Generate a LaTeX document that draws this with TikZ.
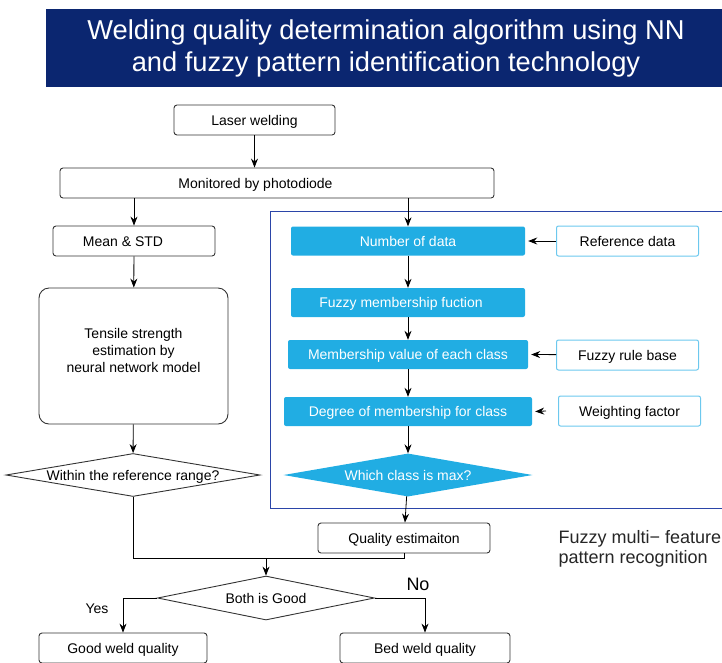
\documentclass[tikz,border=0pt]{standalone}
\usepackage{fontspec}
\setmainfont{Liberation Sans}
\usetikzlibrary{shapes.geometric,arrows.meta}
\definecolor{navy}{HTML}{0B2670}
\definecolor{fuzzcyan}{HTML}{21ADE3}
\definecolor{inedge}{HTML}{6CC8EE}
\definecolor{frameblue}{HTML}{2B45A8}
\definecolor{ink}{HTML}{333333}
\newcommand{\boxfont}{\fontsize{14}{17}\selectfont}
\tikzset{
    boxtext/.style={font=\boxfont, text height=11pt, text depth=1pt},
    procbox/.style={draw=ink, line width=0.9pt, rounded corners=3pt, minimum height=30pt, inner sep=0pt, boxtext},
    fuzzbox/.style={fill=fuzzcyan, text=white, rounded corners=2pt, minimum height=29pt, inner sep=0pt, boxtext},
    inbox/.style={draw=inedge, line width=1pt, rounded corners=2pt, minimum height=30pt, minimum width=142pt, inner sep=0pt, boxtext},
    decide/.style={diamond, draw=ink, line width=0.9pt, aspect=5.8, inner sep=0pt, boxtext},
    flow/.style={-{Stealth[length=9pt,width=7pt,inset=3pt]}, line width=0.8pt}
}

\begin{document}
\begin{tikzpicture}[x=1pt,y=-1pt]
            \clip (0,0) rectangle (722,662);
            % title band
            \node (title) at (386,48)[fill=navy, text=white, minimum width=680pt, minimum height=78pt, align=center,
                font=\fontsize{27.3}{32}\selectfont] {Welding quality determination algorithm using NN\\and fuzzy pattern identification technology};
            % left branch
            \node (laser) at (254.5,120)[procbox, minimum width=161pt] {Laser welding};
            \node (monit) at (277,183)[procbox, minimum width=434pt, label={[boxtext, xshift=-21.5pt]center:Monitored by photodiode}] {};
            \node (mean) at (134,241)[procbox, minimum width=162pt, label={[boxtext, xshift=-11pt]center:Mean \& STD}] {};
            \node (tensile) at (133.5,356)[procbox, rounded corners=10pt, minimum width=189pt, minimum height=136pt,
                label={[font=\boxfont, align=center, yshift=6pt]center:Tensile strength\\estimation by\\neural network model}] {};
            \node (within) at (133,475)[decide, minimum width=254pt, minimum height=43pt] {Within the reference range?};
            % fuzzy part
            \draw[frameblue, line width=1pt] (270,211) rectangle (730,508);
            \node (num) at (408,241)[fuzzbox, minimum width=234pt] {Number of data};
            \node (memfun) at (408,302.5)[fuzzbox, minimum width=234pt] {\hspace*{-14pt}Fuzzy membership fuction};
            \node (memval) at (408,354.5)[fuzzbox, minimum width=240pt] {Membership value of each class};
            \node (degree) at (408,411.5)[fuzzbox, minimum width=248pt] {Degree of membership for class};
            \node (maxcls) at (408,475)[diamond, fill=fuzzcyan, text=white, aspect=5.8, inner sep=0pt, minimum width=249pt, minimum height=43pt, boxtext] {Which class is max?};
            \node (refdata) at (627.5,241)[inbox] {Reference data};
            \node (rulebase) at (627.5,355)[inbox] {Fuzzy rule base};
            \node (weight) at (629.5,411)[inbox] {Weighting factor};
            \coordinate (wtip) at (546,411);
            \node (qual) at (404,538)[procbox, minimum width=172pt] {Quality estimaiton};
            \node (fuzzcap) at (555,549)[anchor=west, align=left, text=black!85, font=\fontsize{18}{20.5}\selectfont] {Fuzzy multi− feature\\pattern recognition};
            % decision
            \coordinate (merge) at (266,558);
            \node (both) at (266,598)[decide, minimum width=217pt, minimum height=44pt] {Both is Good};
            \node (good) at (123,648)[procbox, minimum width=168pt] {Good weld quality};
            \node (bad) at (425,648)[procbox, minimum width=170pt] {Bed weld quality};
            \node (yes) at (97,608)[boxtext] {Yes};
            \node (no) at (418,584)[font=\fontsize{18}{20}\selectfont] {No};
            % connectors
            \draw[flow] (laser) -- (laser |- monit.north);
            \draw[flow] (mean.north |- monit.south) -- (mean.north);
            \draw[flow] (mean) -- (tensile);
            \draw[flow] (tensile) -- (within);
            \draw[flow] (num.north |- monit.south) -- (num.north);
            \draw[flow] (num) -- (memfun);
            \draw[flow] (memfun) -- (memval);
            \draw[flow] (memval) -- (degree);
            \draw[flow] (degree) -- (maxcls);
            \draw[flow] (maxcls) -- (qual);
            \draw[flow] (refdata) -- ([xshift=3pt]num.east);
            \draw[flow] (rulebase) -- ([xshift=3pt]memval.east);
            \draw[flow] (wtip) -- ([xshift=3pt]degree.east);
            \draw[line width=0.8pt] (within.south) |- (merge) -| (qual.south);
            \draw[flow] (merge) -- (both);
            \draw[flow] (both.west) -| (good.north);
            \draw[flow] (both.east) -| (bad.north);
\end{tikzpicture}
\end{document}
